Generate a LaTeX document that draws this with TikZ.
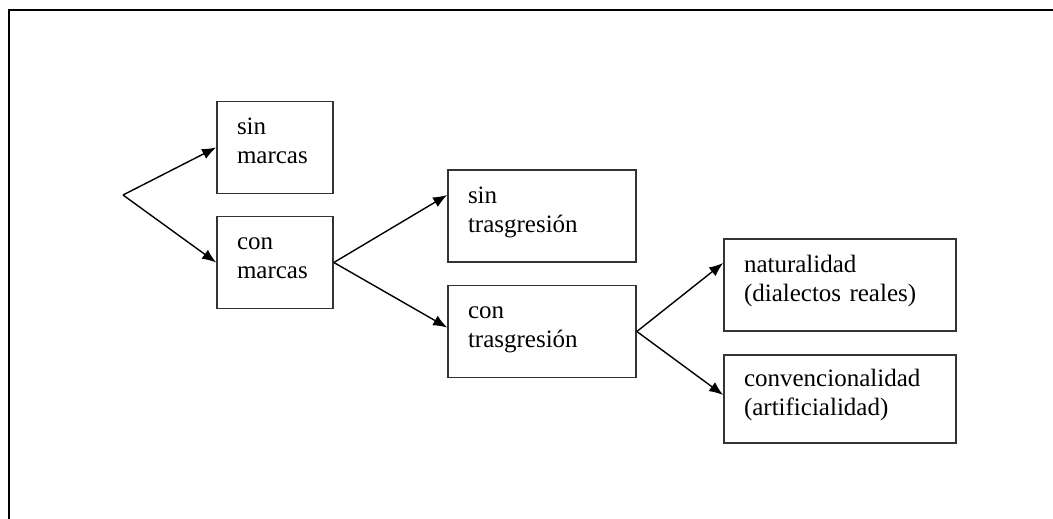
\documentclass[tikz,border=0pt]{standalone}
\usepackage{fontspec}
\setmainfont{Liberation Serif}
\usetikzlibrary{arrows.meta, calc, positioning}
\newcommand{\boxfont}{\fontsize{25}{29}\selectfont}

\begin{document}
\begin{tikzpicture}[x=1pt, y=-1pt,
	>={Latex[length=14pt, width=11pt]},
	arrow/.style={->, line width=1.4pt},
	box/.style={draw=black!80, line width=1.7pt, minimum height=92pt, inner xsep=20pt, inner ysep=0pt, align=left, font=\boxfont,
		execute at begin node={\rule{0pt}{16pt}}, execute at end node={\rule[-13pt]{0pt}{13pt}}},
	narrowbox/.style={box, text width=76pt},
	middlebox/.style={box, text width=148pt},
	widebox/.style={box, text width=192pt}]
	\useasboundingbox (0,0) rectangle (1053,519);
	% frame
	\draw[line width=1.3pt] (8,10) -- (1053,10);
	\draw[line width=2pt] (9,10) -- (9,519);
	\draw[line width=2pt] (8,10.5) -- (22,10.5);
	% boxes
	\node[narrowbox] (sinm) at (275,147.5) {sin\\marcas};
	\node[narrowbox] (conm) at (275,262.5) {con\\marcas};
	\node[middlebox] (sint) at (542,216) {sin\\trasgresión};
	\node[middlebox] (cont) at (542,331.5) {con\\trasgresión};
	\node[widebox] (nat) at (840,285) {naturalidad\\(dialectos reales)};
	\node[widebox, minimum height=88pt] (conv) at (840,399) {convencionalidad\\(artificialidad)};
	\coordinate (root) at (123,195);
	% arrows
	\draw[arrow] (root) -- (sinm.west);
	\draw[arrow] (root) -- (conm.west);
	\draw[arrow] (conm.east) -- ([yshift=21pt]sint.west);
	\draw[arrow] (conm.east) -- ([yshift=4pt]cont.west);
	\draw[arrow] (cont.east) -- ([yshift=22pt]nat.west);
	\draw[arrow] (cont.east) -- ([yshift=4pt]conv.west);
\end{tikzpicture}
\end{document}
